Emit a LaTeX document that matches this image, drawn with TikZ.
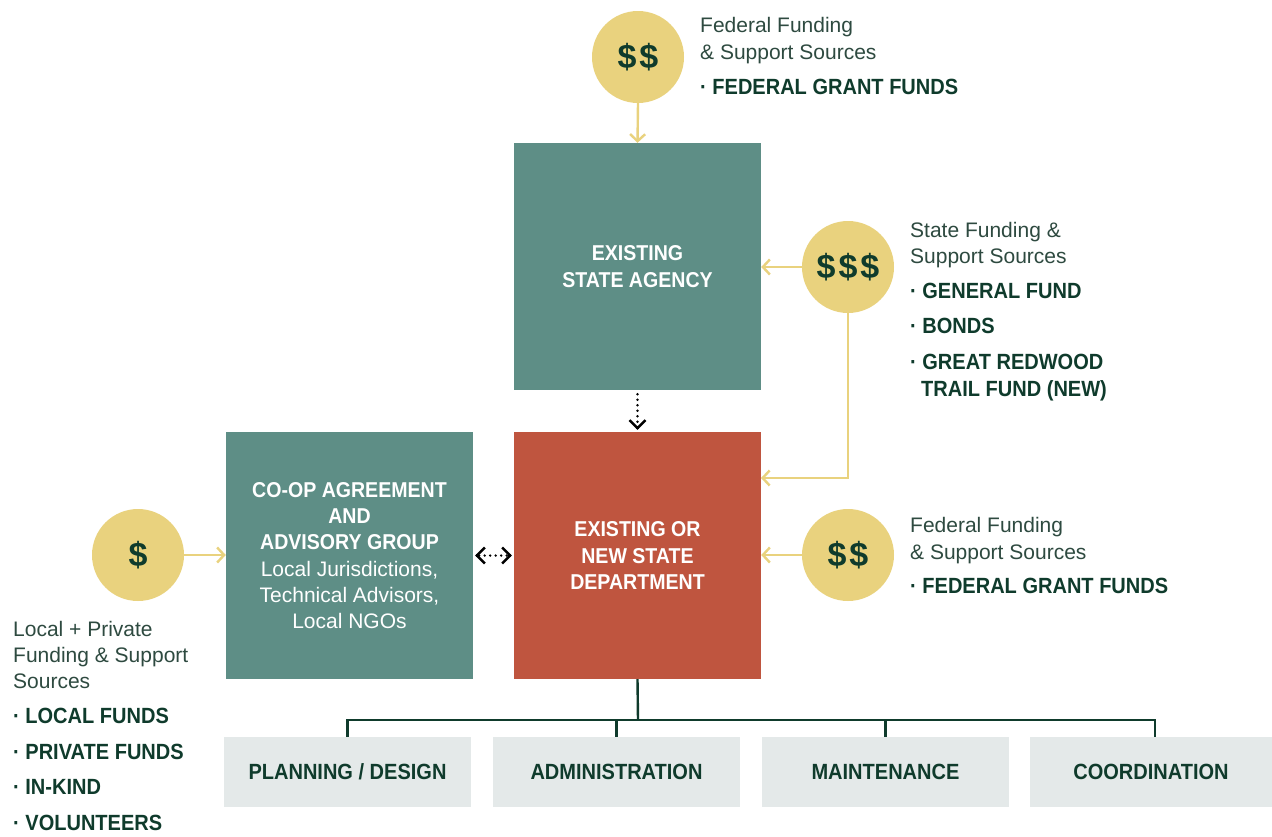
\documentclass[tikz,border=0pt]{standalone}
\usepackage{fontspec}
\setmainfont{Liberation Sans}
\newfontfamily\bfc[FakeStretch=0.91]{Liberation Sans Bold}
\newfontfamily\bfd{Liberation Sans Bold}
\usetikzlibrary{arrows.meta}
\definecolor{teal1}{HTML}{5E8E86}
\definecolor{red1}{HTML}{BF553F}
\definecolor{gold1}{HTML}{E9D27E}
\definecolor{dkgreen}{HTML}{0F3B2C}
\definecolor{gray1}{HTML}{E4E9E9}
\definecolor{txtgray}{HTML}{2E4A40}
\tikzset{
  bigbox/.style={minimum width=247pt, minimum height=247pt, inner sep=0pt, text=white, align=center, font=\bfc\fontsize{21.5}{26.2}\selectfont},
  coin/.style={circle, fill=gold1, minimum size=92pt, inner sep=0pt, text=dkgreen, font=\bfd\fontsize{34}{34}\selectfont},
  subbox/.style={fill=gray1, minimum width=247pt, minimum height=70pt, inner sep=0pt, text=dkgreen, font=\bfc\fontsize{22}{24}\selectfont},
  lite/.style={anchor=west, inner sep=0pt, text height=15pt, text depth=0pt, text=txtgray, font=\fontsize{21}{24}\selectfont},
  bul/.style={anchor=west, inner sep=0pt, text height=15pt, text depth=0pt, text=dkgreen, font=\bfc\fontsize{22}{24}\selectfont},
  goldarrow/.style={draw=gold1, line width=2.4pt, -{Straight Barb[length=7pt,width=15pt]}},
  dotline/.style={draw=black, line width=2.6pt, dash pattern=on 0pt off 5.5pt, line cap=round},
  tipline/.style={draw=black, line width=2.4pt, solid},
  barb/.tip={Straight Barb[length=8pt,width=16pt]},
  treeline/.style={draw=dkgreen, line width=2.4pt}
}
\newcommand{\litefont}{\fontspec{Liberation Sans}\fontsize{21}{26.2}\selectfont}
\begin{document}
\begin{tikzpicture}[x=1pt,y=-1pt]
\useasboundingbox[fill=white] (0,0) rectangle (1272,836);
% main boxes
\node[bigbox, fill=teal1] (agency) at (637.5,266.5) {EXISTING\\STATE AGENCY};
\node[bigbox, fill=red1] (dept) at (637.5,555.5) {EXISTING OR\\NEW STATE\\DEPARTMENT};
\node[bigbox, fill=teal1] (coop) at (349.5,555.5) {CO-OP AGREEMENT\\AND\\ADVISORY GROUP\\{\litefont Local Jurisdictions,}\\{\litefont Technical Advisors,}\\{\litefont Local NGOs}};
% coins
\node[coin] (ctop) at (638,57) {\$\kern3pt\$};
\node[coin] (cstate) at (848,267) {\$\kern3pt\$\kern3pt\$};
\node[coin] (cfed) at (848,555) {\$\kern3pt\$};
\node[coin] (clocal) at (138,555) {\$};
% sub boxes
\node[subbox] (plan) at (347.5,772) {PLANNING / DESIGN};
\node[subbox] (admin) at (616.5,772) {ADMINISTRATION};
\node[subbox] (maint) at (885.5,772) {MAINTENANCE};
\node[subbox, minimum width=242pt] (coord) at (1151,772) {COORDINATION};
% texts top
\node[lite] (t1a) at (700,25) {Federal Funding};
\node[lite] (t1b) at (700,52) {\& Support Sources};
\node[bul] (t1c) at (700,87) {· FEDERAL GRANT FUNDS};
% state
\node[lite] (t2a) at (910,230) {State Funding \&};
\node[lite] (t2b) at (910,256) {Support Sources};
\node[bul] (t2c) at (910,291) {· GENERAL FUND};
\node[bul] (t2d) at (910,326) {· BONDS};
\node[bul] (t2e) at (910,362) {· GREAT REDWOOD};
\node[bul] (t2f) at (921,389) {TRAIL FUND (NEW)};
% lower federal
\node[lite] (t3a) at (910,525) {Federal Funding};
\node[lite] (t3b) at (910,552) {\& Support Sources};
\node[bul] (t3c) at (910,586) {· FEDERAL GRANT FUNDS};
% local
\node[lite] (t4a) at (13,629) {Local + Private};
\node[lite] (t4b) at (13,655) {Funding \& Support};
\node[lite] (t4c) at (13,681) {Sources};
\node[bul] (t4d) at (13,716) {· LOCAL FUNDS};
\node[bul] (t4e) at (13,752) {· PRIVATE FUNDS};
\node[bul] (t4f) at (13,787) {· IN-KIND};
\node[bul] (t4g) at (13,823) {· VOLUNTEERS};
% gold arrows
\draw[goldarrow] (ctop.south) -- (agency.north);
\draw[goldarrow] (cstate.west) -- (cstate.west -| agency.east);
\coordinate (deptin) at (761,478);
\draw[goldarrow] (cstate.south) |- (deptin);
\draw[goldarrow] (cfed.west) -- (cfed.west -| dept.east);
\draw[goldarrow] (clocal.east) -- (clocal.east -| coop.west);
% dotted arrows
\draw[dotline, shorten >=6pt] ([yshift=-4pt]agency.south) -- (dept.north);
\draw[tipline, -barb] ([yshift=3pt]dept.north) -- ([yshift=2pt]dept.north);
\draw[dotline, shorten >=6pt, shorten <=6pt] (coop.east) -- (dept.west);
\draw[tipline, -barb] ([xshift=3pt]coop.east) -- ([xshift=2pt]coop.east);
\draw[tipline, -barb] ([xshift=-3pt]dept.west) -- ([xshift=-2pt]dept.west);
% tree
\coordinate (hub) at (638,720);
\coordinate (cdrop) at (1155,737);
\draw[treeline] (dept.south) -- (hub);
\draw[treeline] (plan.north) -- (plan.north |- hub) -- (cdrop |- hub) -- (cdrop);
\draw[treeline] (admin.north) -- (admin.north |- hub);
\draw[treeline] (maint.north) -- (maint.north |- hub);
\end{tikzpicture}
\end{document}
